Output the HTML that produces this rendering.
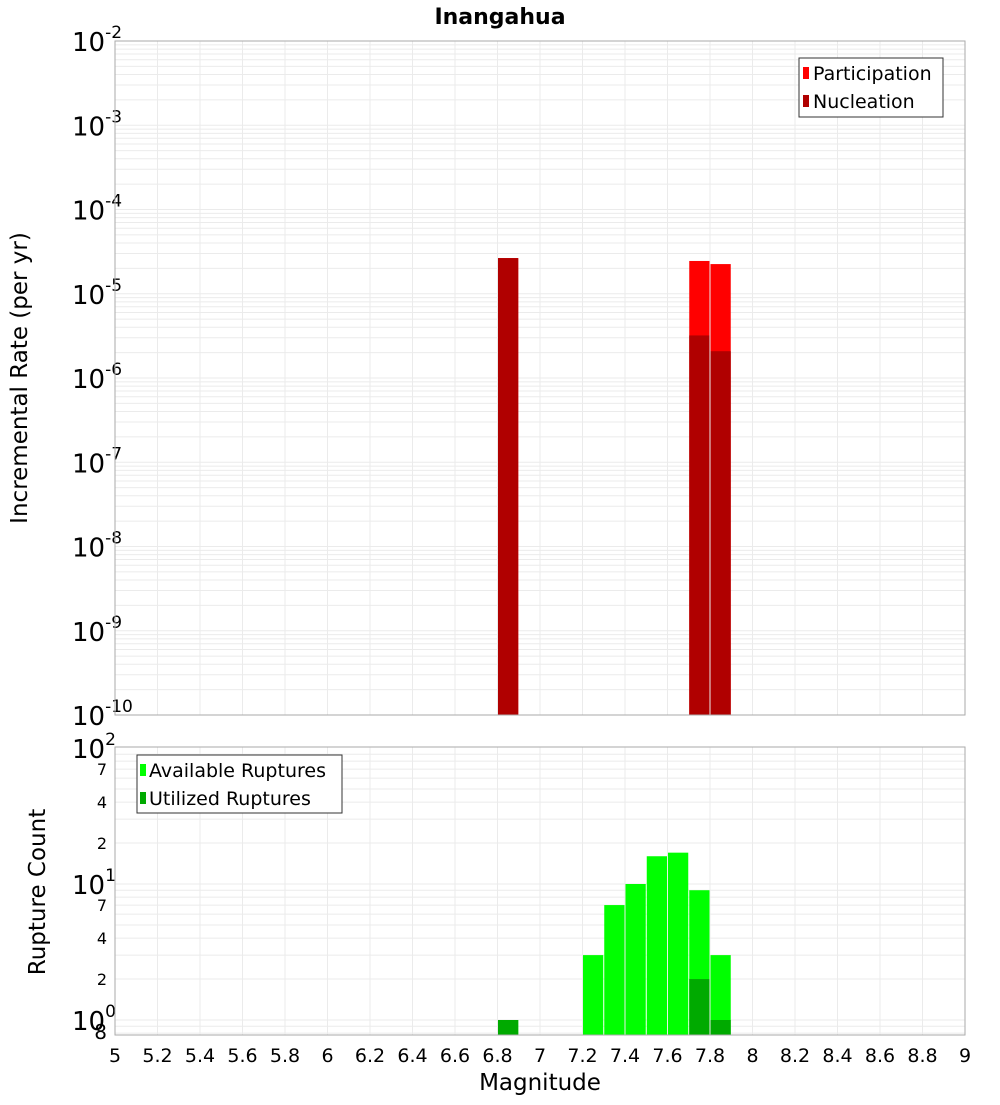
<!DOCTYPE html>
<html><head><meta charset="utf-8"><style>
body{margin:0;background:#fff;font-family:"Liberation Sans","DejaVu Sans",sans-serif}
svg text{font-family:"DejaVu Sans","Liberation Sans",sans-serif}
</style></head><body>
<svg id="c" width="1000" height="1100" xmlns="http://www.w3.org/2000/svg">
<text x="500" y="24" text-anchor="middle" font-size="22" font-weight="bold">Inangahua</text>
<text transform="translate(27,378) rotate(-90)" text-anchor="middle" font-size="23">Incremental Rate (per yr)</text>
<text transform="translate(45,892) rotate(-90)" text-anchor="middle" font-size="23">Rupture Count</text>
<text x="540" y="1090" text-anchor="middle" font-size="23">Magnitude</text>
<g id="grid"></g><g id="bars"></g><g id="axes"></g>
<g>
<rect x="799" y="58" width="144" height="59" fill="#fff" stroke="#333" stroke-width="1"/>
<rect x="803" y="67" width="6" height="12" fill="#ff0000"/>
<text x="813" y="80" font-size="19">Participation</text>
<rect x="803" y="95" width="6" height="12" fill="#b00000"/>
<text x="813" y="108" font-size="19">Nucleation</text>
</g>
<g>
<rect x="137" y="755" width="205" height="58" fill="#fff" stroke="#333" stroke-width="1"/>
<rect x="140" y="764" width="6" height="12" fill="#00ff00"/>
<text x="149" y="777" font-size="19">Available Ruptures</text>
<rect x="140" y="792" width="6" height="12" fill="#00aa00"/>
<text x="149" y="805" font-size="19">Utilized Ruptures</text>
</g>
</svg>
<script>
const mags=[6.85,7.75,7.85];
const participation=[2.65e-5,2.45e-5,2.25e-5];
const nucleation=[2.65e-5,3.2e-6,2.08e-6];
const cMags=[6.85,7.25,7.35,7.45,7.55,7.65,7.75,7.85];
const available=[1,3,7,10,16,17,9,3];
const utilized=[1,0,0,0,0,0,2,1];
const xTicks=[5,5.2,5.4,5.6,5.8,6,6.2,6.4,6.6,6.8,7,7.2,7.4,7.6,7.8,8,8.2,8.4,8.6,8.8,9];
const topExp=[-2,-3,-4,-5,-6,-7,-8,-9,-10];

const NS="http://www.w3.org/2000/svg";
const L=115,R=965,T1=41,B1=715,T2=747,B2=1035;
const X=m=>L+(m-5)*(R-L)/4;
const Y1=v=>T1+(-2-Math.log10(v))*(B1-T1)/8;
const Y2=v=>884-136*(Math.log10(v)-1);
function mk(p,tag,a){const e=document.createElementNS(NS,tag);for(const k in a)e.setAttribute(k,a[k]);p.appendChild(e);return e;}
const grid=document.getElementById('grid'),bars=document.getElementById('bars'),axes=document.getElementById('axes');
mk(grid,'rect',{x:L,y:T1,width:R-L,height:B1-T1,fill:'#fff'});
mk(grid,'rect',{x:L,y:T2,width:R-L,height:B2-T2,fill:'#fff'});
xTicks.forEach(t=>{
 mk(grid,'line',{x1:X(t),x2:X(t),y1:T1,y2:B1,stroke:'#ebebeb'});
 mk(grid,'line',{x1:X(t),x2:X(t),y1:T2,y2:B2,stroke:'#ebebeb'});
 const tx=mk(axes,'text',{x:X(t),y:1062,'text-anchor':'middle','font-size':19});
 
 
 tx.textContent=String(t);
});
for(let e=-10;e<-2;e++)for(let k=1;k<10;k++){const y=Y1(k*Math.pow(10,e));mk(grid,'line',{x1:L,x2:R,y1:y,y2:y,stroke:'#ebebeb'});}
for(let e=-1;e<2;e++)for(let k=1;k<10;k++){const v=k*Math.pow(10,e);const y=Y2(v);if(y>T2&&y<B2)mk(grid,'line',{x1:L,x2:R,y1:y,y2:y,stroke:'#ebebeb'});}
topExp.forEach(e=>{
 const g=mk(axes,'text',{x:72,y:Y1(Math.pow(10,e))+10,'font-size':26});
 
 
 g.innerHTML='10<tspan dy="-13" font-size="17">'+e+'</tspan>';
});
[[100,2],[10,1],[1,0]].forEach(([v,e])=>{
 const g=mk(axes,'text',{x:72,y:Y2(v)+10,'font-size':26});
 
 
 g.innerHTML='10<tspan dy="-13" font-size="17">'+e+'</tspan>';
});
[[70,'7'],[40,'4'],[20,'2'],[7,'7'],[4,'4'],[2,'2'],[0.8,'8']].forEach(([v,s])=>{
 const g=mk(axes,'text',{x:107,y:Y2(v)+6,'text-anchor':'end','font-size':v<1?20:16});
 
 
 g.textContent=s;
});
const w=(R-L)/40;
mags.forEach((m,i)=>{
 const x=X(m)-w/2+0.5;
 const p=mk(bars,'rect',{x:x,y:Y1(participation[i]),width:w-1,height:B1-Y1(participation[i]),fill:'#ff0000'});
 
 
 const n=mk(bars,'rect',{x:x,y:Y1(nucleation[i]),width:w-1,height:B1-Y1(nucleation[i]),fill:'#b00000'});
 
 
});
cMags.forEach((m,i)=>{
 const x=X(m)-w/2+0.5;
 if(available[i]>0){
  const a=mk(bars,'rect',{x:x,y:Y2(available[i]),width:w-1,height:B2-Y2(available[i]),fill:'#00ff00'});
  
  
 }
 if(utilized[i]>0){
  const u=mk(bars,'rect',{x:x,y:Y2(utilized[i]),width:w-1,height:B2-Y2(utilized[i]),fill:'#00aa00'});
  
  
 }
});
mk(axes,'rect',{x:L,y:T1,width:R-L,height:B1-T1,fill:'none',stroke:'#aaa'});
mk(axes,'rect',{x:L,y:T2,width:R-L,height:B2-T2,fill:'none',stroke:'#aaa'});
</script>
</body></html>
